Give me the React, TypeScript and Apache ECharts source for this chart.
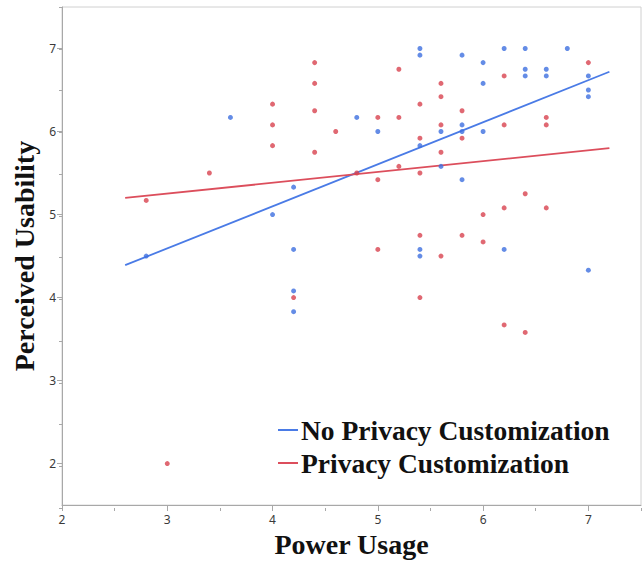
import React, { useEffect, useRef } from "react";
import * as echarts from "echarts";

// Power Usage (x) vs Perceived Usability (y)
const noCustomX = [2.8, 3.6, 4.0, 4.2, 4.2, 4.2, 4.2, 4.8, 5.0, 5.4, 5.4, 5.4, 5.4, 5.4, 5.6, 5.6, 5.8, 5.8, 5.8, 5.8, 6.0, 6.0, 6.0, 6.2, 6.2, 6.4, 6.4, 6.4, 6.6, 6.6, 6.8, 7.0, 7.0, 7.0, 7.0];
const noCustomY = [4.5, 6.17, 5.0, 5.33, 4.58, 4.08, 3.83, 6.17, 6.0, 7.0, 6.92, 5.83, 4.58, 4.5, 6.0, 5.58, 6.92, 6.08, 6.0, 5.42, 6.83, 6.58, 6.0, 7.0, 4.58, 7.0, 6.75, 6.67, 6.75, 6.67, 7.0, 6.67, 6.5, 6.42, 4.33];

const customX = [2.8, 3.0, 3.4, 4.0, 4.0, 4.0, 4.2, 4.4, 4.4, 4.4, 4.4, 4.6, 4.8, 5.0, 5.0, 5.0, 5.2, 5.2, 5.2, 5.4, 5.4, 5.4, 5.4, 5.4, 5.6, 5.6, 5.6, 5.6, 5.6, 5.8, 5.8, 5.8, 6.0, 6.0, 6.2, 6.2, 6.2, 6.2, 6.4, 6.4, 6.6, 6.6, 6.6, 7.0];
const customY = [5.17, 2.0, 5.5, 6.33, 6.08, 5.83, 4.0, 6.83, 6.58, 6.25, 5.75, 6.0, 5.5, 6.17, 5.42, 4.58, 6.75, 6.17, 5.58, 6.33, 5.92, 5.5, 4.75, 4.0, 6.58, 6.42, 6.08, 5.75, 4.5, 6.25, 5.92, 4.75, 5.0, 4.67, 6.67, 6.08, 5.08, 3.67, 5.25, 3.58, 6.17, 6.08, 5.08, 6.83];

// fitted lines (endpoints)
const fitX = [2.6, 7.2];
const noCustomFitY = [4.39, 6.72];
const customFitY = [5.2, 5.8];

const xTicks = [2, 3, 4, 5, 6, 7];
const yTicks = [2, 3, 4, 5, 6, 7];

const seriesNames = ["No Privacy Customization", "Privacy Customization"];

const BLUE = "#3d6fe0";
const RED = "#d8424f";
const BLUE_LINE = "#4a7be6";
const RED_LINE = "#dc4e5c";

const zip = (xs: number[], ys: number[]) => xs.map((x, i) => [x, ys[i]]);

export default function App() {
  const ref = useRef<HTMLDivElement>(null);
  useEffect(() => {
    if (!ref.current) return;
    const chart = echarts.init(ref.current, null, { renderer: "svg" });
    const gridPos = { left: 62, right: 1, top: 7, bottom: 55 };
    const tickFont = { fontFamily: "Noto Sans", fontSize: 12, color: "#3a3a3a" };
    const titleFont = { fontFamily: "Liberation Serif", fontWeight: "bold" as const, fontSize: 28, color: "#111" };
    chart.setOption({
      animation: false,
      backgroundColor: "#fff",
      grid: [
        { ...gridPos, show: true, borderColor: "#d0d0d0", borderWidth: 1, containLabel: false },
        { ...gridPos, show: false, containLabel: false },
      ],
      xAxis: [
        {
          type: "value",
          gridIndex: 0,
          min: 2,
          max: 7.5,
          name: "Power Usage",
          nameLocation: "middle",
          nameGap: 21,
          nameTextStyle: { ...titleFont, verticalAlign: "top" },
          axisLine: { show: true, lineStyle: { color: "#a8a8a8", width: 1 } },
          axisTick: { show: true, length: 5, customValues: xTicks, lineStyle: { color: "#a8a8a8" } },
          axisLabel: { ...tickFont, margin: 8, customValues: xTicks },
          splitLine: { show: false },
        },
        {
          type: "value",
          gridIndex: 1,
          min: 2,
          max: 7.5,
          interval: 0.5,
          axisLine: { show: false },
          axisTick: { show: true, length: 3, lineStyle: { color: "#a8a8a8" } },
          axisLabel: { show: false },
          splitLine: { show: false },
        },
      ],
      yAxis: [
        {
          type: "value",
          gridIndex: 0,
          min: 1.5,
          max: 7.5,
          name: "Perceived Usability",
          nameLocation: "middle",
          nameGap: 21,
          nameTextStyle: { ...titleFont },
          axisLine: { show: true, lineStyle: { color: "#a8a8a8", width: 1 } },
          axisTick: { show: true, length: 5, customValues: yTicks, lineStyle: { color: "#a8a8a8" } },
          axisLabel: { ...tickFont, margin: 6, customValues: yTicks },
          splitLine: { show: false },
        },
        {
          type: "value",
          gridIndex: 1,
          min: 1.5,
          max: 7.5,
          interval: 0.5,
          axisLine: { show: false },
          axisTick: { show: true, length: 3, lineStyle: { color: "#a8a8a8" } },
          axisLabel: { show: false },
          splitLine: { show: false },
        },
      ],
      legend: {
        data: seriesNames,
        orient: "vertical",
        left: 273,
        top: 411,
        icon: "rect",
        itemWidth: 20,
        itemHeight: 2,
        itemGap: 5,
        textStyle: { ...titleFont, fontSize: 27.5, padding: [0, 0, 0, -2] },
      },
      series: [
        {
          name: "noCustomPts",
          type: "scatter",
          data: zip(noCustomX, noCustomY),
          symbolSize: 5,
          itemStyle: { color: BLUE },
          z: 3,
        },
        {
          name: "customPts",
          type: "scatter",
          data: zip(customX, customY),
          symbolSize: 5,
          itemStyle: { color: RED },
          z: 3,
        },
        {
          name: seriesNames[0],
          type: "line",
          data: zip(fitX, noCustomFitY),
          showSymbol: false,
          symbol: "none",
          lineStyle: { color: BLUE_LINE, width: 1.8 },
          itemStyle: { color: BLUE_LINE },
          z: 2,
        },
        {
          name: seriesNames[1],
          type: "line",
          data: zip(fitX, customFitY),
          showSymbol: false,
          symbol: "none",
          lineStyle: { color: RED_LINE, width: 1.8 },
          itemStyle: { color: RED_LINE },
          z: 2,
        },
      ],
    });
    return () => chart.dispose();
  }, []);
  return (
    <div
      ref={ref}
      style={{ position: "absolute", left: 0, top: 0, width: 642, height: 563 }}
    />
  );
}
